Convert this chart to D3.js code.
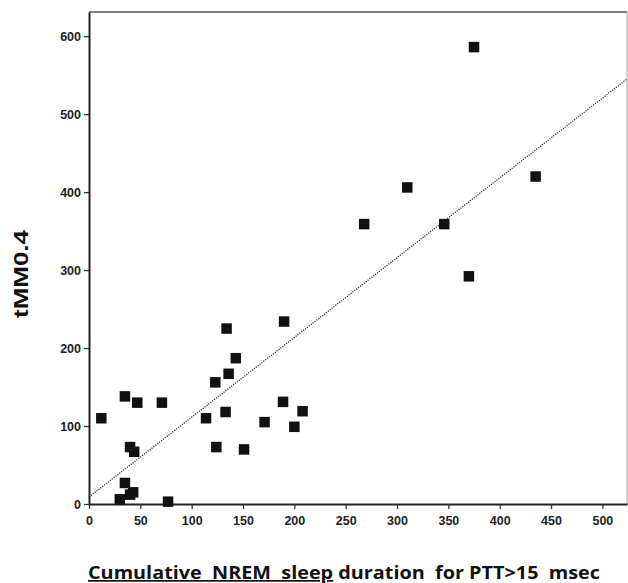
<!DOCTYPE html>
<html><head><meta charset="utf-8">
<script src="https://cdn.jsdelivr.net/npm/d3@7"></script>
<style>body{margin:0;background:#fff}svg{display:block}</style>
</head><body>
<svg id="c" width="628" height="583"></svg>
<script>
const xVals = [12,35,47,71,40,44,35,43,40,30,77,114,123,124,134,133,136,143,151,171,190,189,200,208,375,435,310,268,346,370];
const yVals = [110,138,130,130,73,67,27,15,12,6,3,110,156,73,225,118,167,187,70,105,234,131,99,119,586,420,406,359,359,292];
const xTicks = [0,50,100,150,200,250,300,350,400,450,500];
const yTicks = [0,100,200,300,400,500,600];
const fitIntercept = 9;
const fitSlope = 1.023;
const yTitle = "tMM0.4";
const xTitleUnderlined = "Cumulative  NREM  sleep";
const xTitleRest = " duration  for PTT>15  msec";

const svg = d3.select("#c");
const L = 89, R = 627, T = 12, B = 504;
const x = d3.scaleLinear().domain([0, 524]).range([L, R]);
const y = d3.scaleLinear().domain([0, 631]).range([B, T]);

// frame top/right
svg.append("line").attr("x1", L).attr("x2", R).attr("y1", T).attr("y2", T)
  .attr("stroke", "#555").attr("stroke-width", 1.6);
svg.append("line").attr("x1", R).attr("x2", R).attr("y1", T).attr("y2", B)
  .attr("stroke", "#aaa").attr("stroke-width", 1);

// regression line
const xd = x.domain();
svg.append("line")
  .attr("x1", x(xd[0])).attr("y1", y(fitIntercept + fitSlope * xd[0]))
  .attr("x2", x(xd[1])).attr("y2", y(fitIntercept + fitSlope * xd[1]))
  .attr("stroke", "#333").attr("stroke-width", 1.3).attr("stroke-dasharray", "1.2,1.2");

// axes
const fontTick = "bold 12.5px 'Liberation Sans', Arial, sans-serif";
const ya = svg.append("g").attr("transform", `translate(${L},0)`)
  .call(d3.axisLeft(y).tickValues(yTicks).tickSize(5).tickPadding(3).tickSizeOuter(0));
const xa = svg.append("g").attr("transform", `translate(0,${B})`)
  .call(d3.axisBottom(x).tickValues(xTicks).tickSize(5).tickPadding(7).tickSizeOuter(0));
[ya, xa].forEach(g => {
  g.select(".domain").attr("stroke", "#222").attr("stroke-width", 2);
  g.selectAll(".tick line").attr("stroke", "#333").attr("stroke-width", 1.3);
  g.selectAll(".tick text").style("font", fontTick).attr("fill", "#222");
});

// points
const s = 10.5;
svg.append("g").selectAll("rect").data(xVals.map((v, i) => [v, yVals[i]])).join("rect")
  .attr("x", d => x(d[0]) - s / 2).attr("y", d => y(d[1]) - s / 2)
  .attr("width", s).attr("height", s).attr("fill", "#111");

// titles
svg.append("text").attr("transform", "translate(28,274) rotate(-90)")
  .attr("text-anchor", "middle")
  .attr("textLength", 88).attr("lengthAdjust", "spacingAndGlyphs")
  .style("font", "bold 21px 'Liberation Sans', Arial, sans-serif").attr("fill", "#111")
  .text(yTitle);

const xt = svg.append("text").attr("x", 88).attr("y", 579)
  .attr("textLength", 512).attr("lengthAdjust", "spacingAndGlyphs")
  .style("font", "bold 17px 'Open Sans', 'Liberation Sans', sans-serif")
  .style("white-space", "pre").attr("fill", "#111");
xt.append("tspan").style("text-decoration", "underline").text(xTitleUnderlined);
xt.append("tspan").text(xTitleRest);
</script>
</body></html>
